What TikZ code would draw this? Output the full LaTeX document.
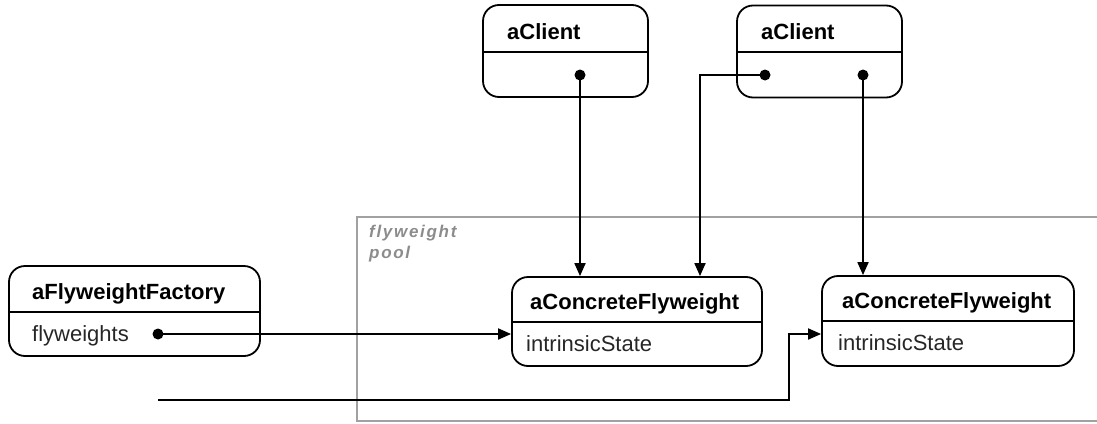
\documentclass[tikz,border=0pt]{standalone}
\usepackage{fontspec}
\setmainfont{Liberation Sans}
\newfontfamily\poolfont[LetterSpace=10]{Liberation Sans}
\usetikzlibrary{arrows.meta}

\tikzset{
  objbox/.style={draw, line width=1.8pt, rounded corners=16pt, inner sep=0pt},
  divider/.style={line width=1.8pt},
  titletext/.style={anchor=base west, inner sep=0pt,
    font=\fontsize{22}{26}\selectfont\bfseries},
  attrtext/.style={anchor=base west, inner sep=0pt, text=black!85,
    font=\fontsize{22}{26}\selectfont},
  refdot/.style={circle, fill, inner sep=0pt, minimum size=11pt},
  link/.style={line width=1.8pt, -{Triangle[length=13pt,width=11pt]}},
  poolframe/.style={draw=black!37, line width=2.8pt},
  poollabel/.style={anchor=north west, inner sep=0pt, align=left, text=black!45,
    font=\poolfont\fontsize{17}{21}\selectfont\bfseries\itshape},
}

\begin{document}
\begin{tikzpicture}[x=1pt, y=-1pt]
  \useasboundingbox (0,0) rectangle (1097,423);

  % ---- flyweight pool (open to the right) ----
  \draw[poolframe] (1100,217) -- (357,217) -- (357,421) -- (1100,421);
  \node[poollabel] (poolname) at (369,225) {flyweight\\pool};

  % ---- clients ----
  \node[objbox, minimum width=165pt, minimum height=92pt] (client1) at (565.5,51) {};
  \draw[divider] (client1.west |- 0,52) -- (client1.east |- 0,52);
  \node[titletext] (client1-title) at (507,39) {aClient};
  \node[refdot] (c1ref) at (580,75) {};

  \node[objbox, minimum width=165pt, minimum height=92pt] (client2) at (819.5,51.5) {};
  \draw[divider] (client2.west |- 0,52) -- (client2.east |- 0,52);
  \node[titletext] (client2-title) at (761,39) {aClient};
  \node[refdot] (c2refa) at (765,75) {};
  \node[refdot] (c2refb) at (863,75) {};

  % ---- factory ----
  \node[objbox, minimum width=251pt, minimum height=90pt] (factory) at (134.5,311) {};
  \draw[divider] (factory.west |- 0,312) -- (factory.east |- 0,312);
  \node[titletext] (factory-title) at (32,299) {aFlyweightFactory};
  \node[attrtext] (factory-attr) at (32,341) {flyweights};
  \node[refdot] (fwref) at (158,334) {};

  % ---- concrete flyweights ----
  \node[objbox, minimum width=250pt, minimum height=89pt] (conc1) at (637,321.5) {};
  \draw[divider] (conc1.west |- 0,322) -- (conc1.east |- 0,322);
  \node[titletext] (conc1-title) at (530,309) {aConcreteFlyweight};
  \node[attrtext] (conc1-attr) at (526,351) {intrinsicState};

  \node[objbox, minimum width=252pt, minimum height=90pt] (conc2) at (948,321) {};
  \draw[divider] (conc2.west |- 0,321) -- (conc2.east |- 0,321);
  \node[titletext] (conc2-title) at (842,308) {aConcreteFlyweight};
  \node[attrtext] (conc2-attr) at (838,350) {intrinsicState};

  % ---- references ----
  \coordinate (bendA) at (700,75);
  \coordinate (poolin) at (158,400);
  \coordinate (bendB) at (789,400);
  \draw[link] (c1ref.center) -- (c1ref |- conc1.north);
  \draw[link] (c2refa.center) -- (bendA) -- (bendA |- conc1.north);
  \draw[link] (c2refb.center) -- (c2refb |- conc2.north);
  \draw[link] (fwref.center) -- (fwref -| conc1.west);
  \draw[link] (poolin) -- (bendB) |- (conc2.west |- fwref);

\end{tikzpicture}
\end{document}
